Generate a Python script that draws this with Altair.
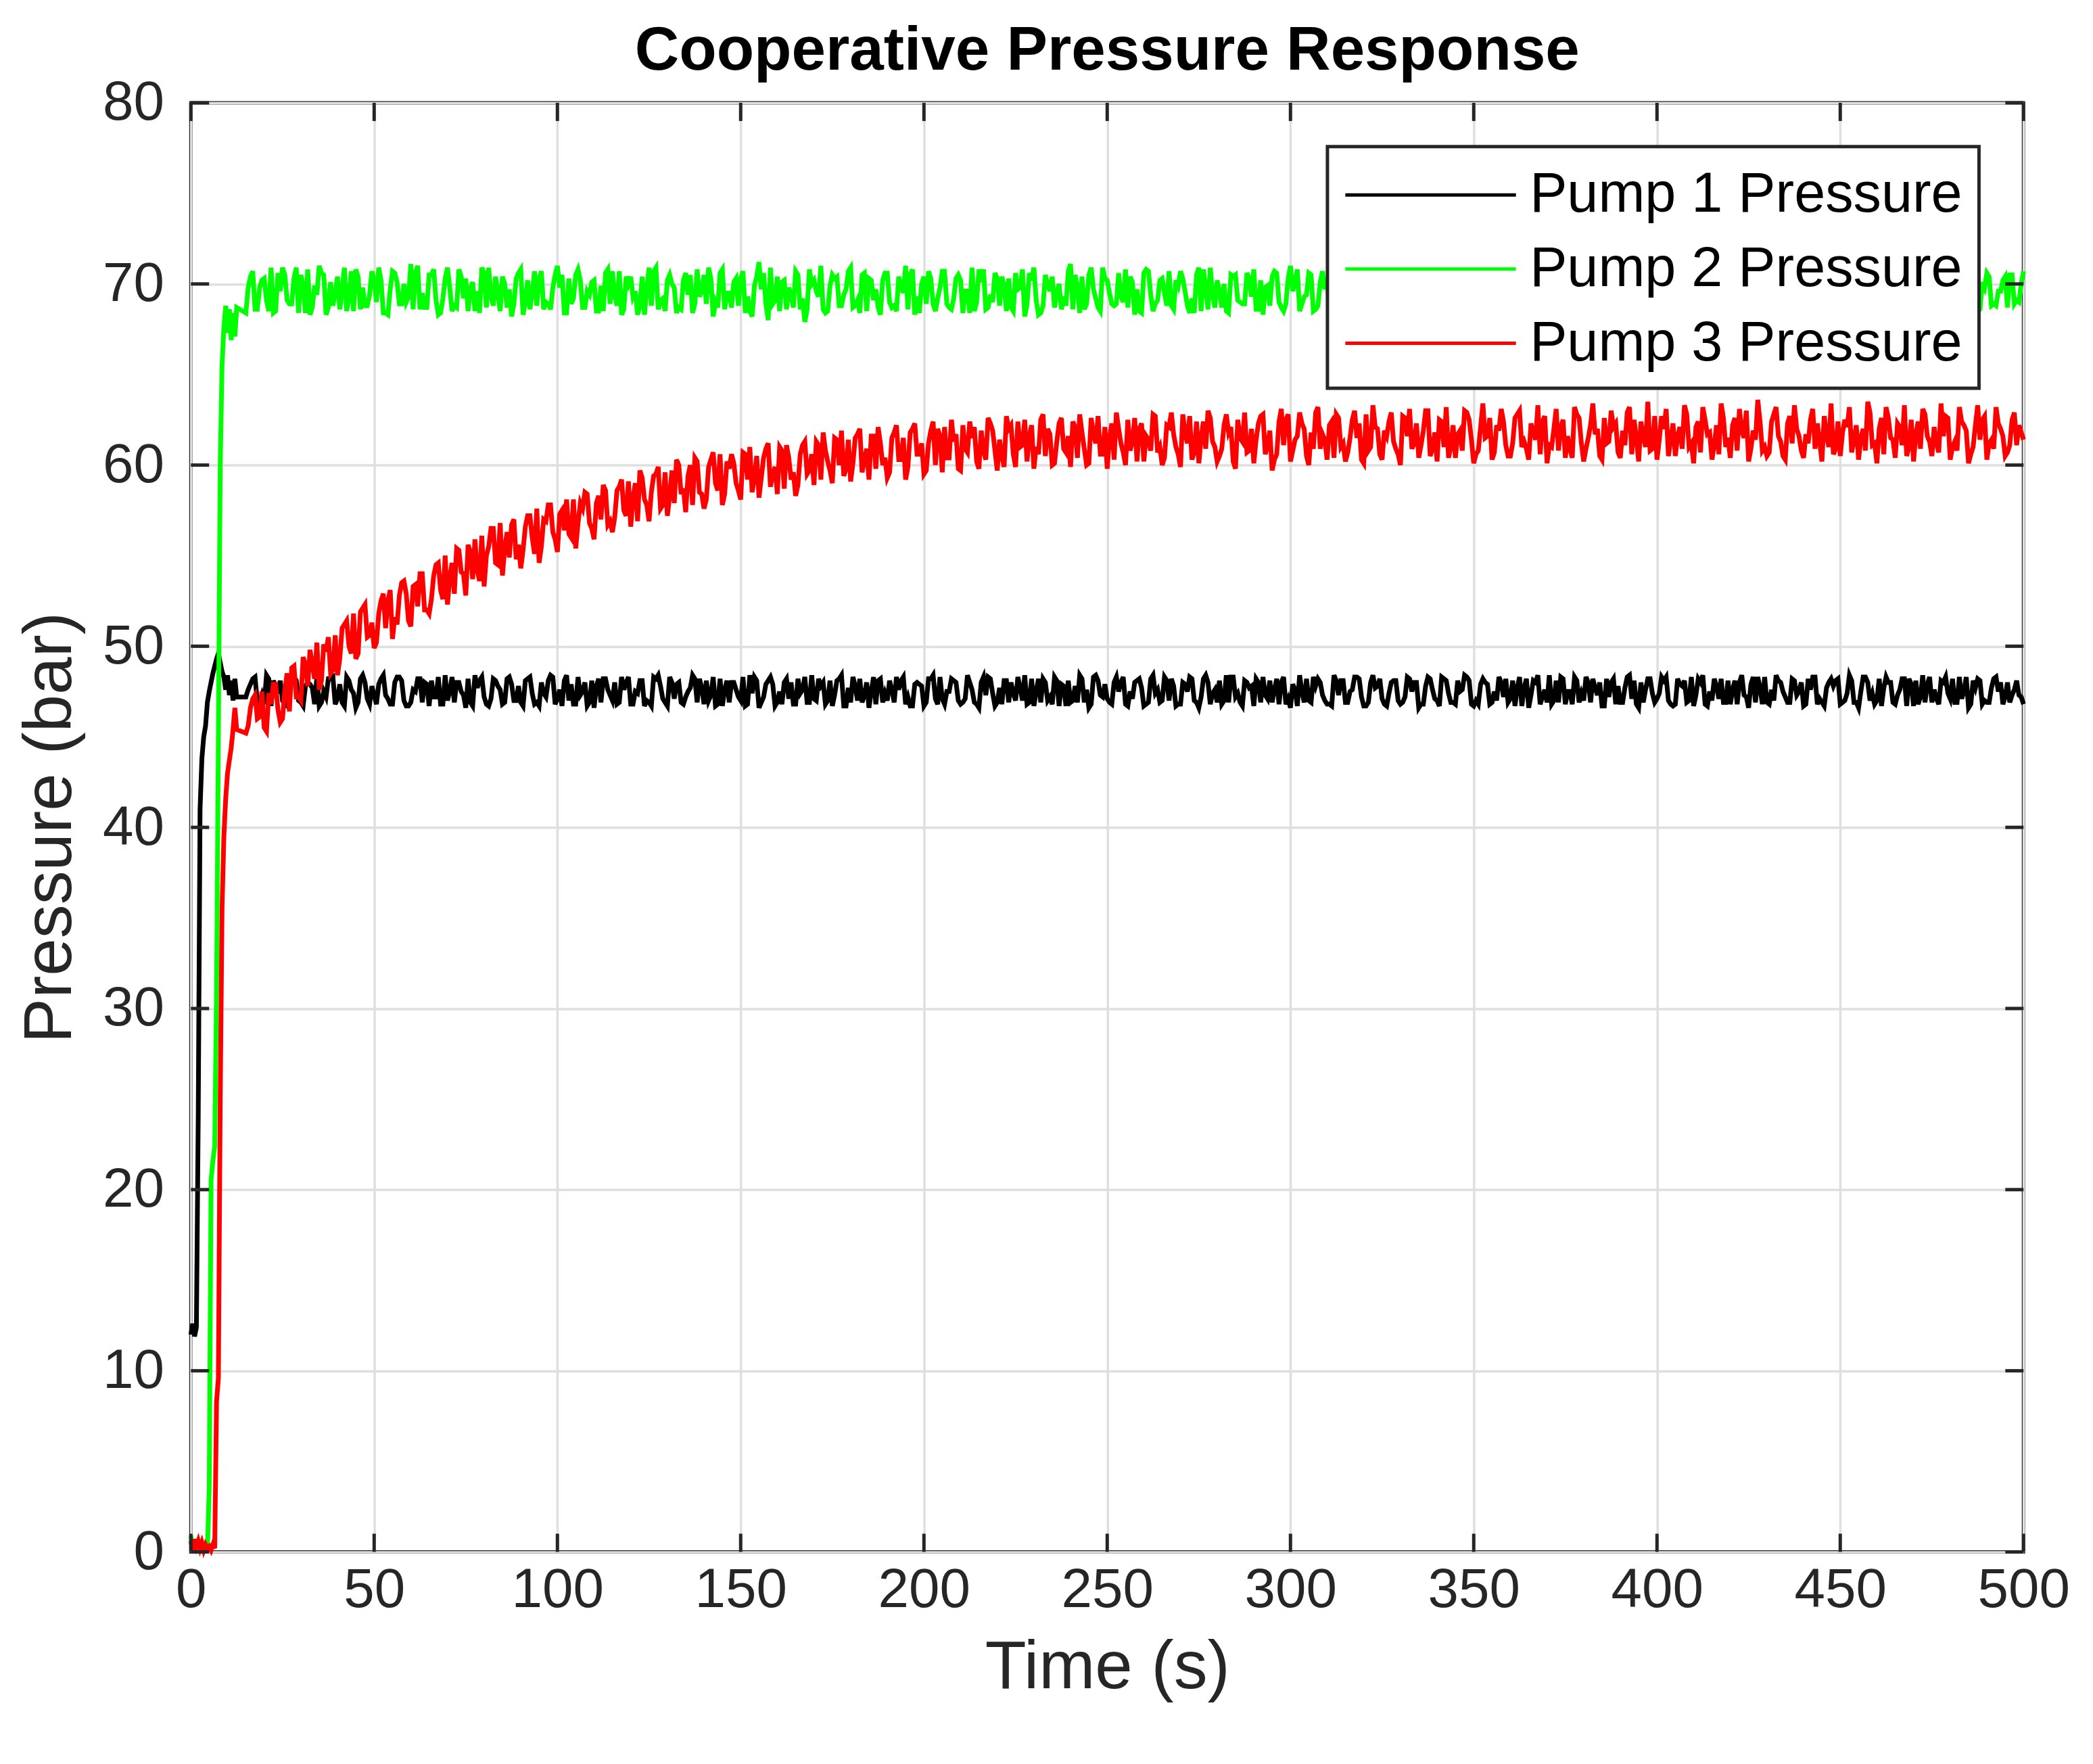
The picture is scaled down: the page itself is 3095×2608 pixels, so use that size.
import altair as alt
import pandas as pd

# ---------------- data ----------------
series_names = ["Pump 1 Pressure", "Pump 2 Pressure", "Pump 3 Pressure"]
series_colors = ["#000000", "#00ff00", "#ff0000"]

time_transient = [0, 0.5, 1, 1.5, 2, 2.5, 3, 3.5, 4, 4.5, 5, 5.5, 6, 6.5,
                  7, 7.5, 8, 8.5, 9, 9.5, 10, 10.5, 11, 11.5, 12, 12.5]
# sampling grid after the start-up: 15 s .. 500 s every 0.625 s
time_steady = [15 + 0.625 * i for i in range(777)]

pump1_transient = [12.0, 12.6, 11.9, 12.4, 24.0, 41.0, 43.8, 45.0, 45.6, 46.9,
                   47.5, 48.0, 48.5, 48.9, 49.3, 49.6, 49.1, 48.6, 48.3, 47.6,
                   48.4, 47.3, 48.1, 47.0, 48.2, 47.2]
pump2_transient = [0.9, 0.3, 0.7, 0.2, 0.6, 0.1, 0.5, 0.2, 0.4, 0.1,
                   3.5, 20.5, 21.6, 22.4, 31.0, 45.0, 60.0, 65.5, 67.6, 68.8,
                   67.3, 68.6, 66.9, 68.4, 67.1, 68.7]
pump3_transient = [0.6, 0.1, 0.7, 0.3, 0.6, 0.2, 0.5, 0.1, 0.4, 0.2,
                   0.3, 0.1, 0.4, 0.2, 8.3, 9.6, 25.0, 35.5, 39.5, 41.6,
                   43.0, 43.7, 44.4, 45.4, 46.6, 45.4]

# samples at 15, 17.5, 20, ... 500 s
pump1_a = [
    47.2, 48.3, 46.8, 48.1, 47.0, 48.4, 46.9, 47.9, 46.7, 48.2,
    47.1, 48.3, 46.6, 48.0, 47.3, 48.4, 46.8, 48.1, 46.9, 48.2,
    46.7, 48.3, 47.0, 48.0, 46.6, 48.4, 47.2, 48.2, 46.8, 47.9,
    46.9, 48.3, 46.7, 48.1, 47.1, 48.4, 46.8, 48.0, 46.6, 48.2,
    47.0, 48.3, 46.8, 48.1, 46.9, 48.4, 46.7, 47.9, 47.2, 48.2,
    46.8, 48.3, 46.7, 48.0, 47.0, 48.4, 46.6, 48.1, 46.9, 48.2,
    46.8, 48.3, 47.1, 48.0, 46.7, 48.4, 46.9, 48.2, 46.6, 48.1,
    47.0, 48.3, 46.8, 47.9, 46.7, 48.4, 47.1, 48.2, 46.8, 48.0,
    46.6, 48.3, 46.9, 48.1, 47.0, 48.4, 46.7, 48.2, 46.8, 47.9,
    46.9, 48.4, 46.6, 48.1, 47.1, 48.3, 46.8, 48.0, 46.7, 48.4,
    47.0, 48.2, 46.8, 48.3, 46.6, 48.0, 46.9, 48.4, 47.2, 48.1,
    46.7, 48.3, 46.9, 48.0, 46.6, 48.4, 47.0, 48.2, 46.8, 48.1,
    46.9, 48.3, 46.7, 48.4, 47.1, 48.0, 46.8, 48.2, 46.6, 48.3,
    47.0, 48.1, 46.8, 48.4, 46.7, 48.2, 46.9, 48.0, 47.1, 48.3,
    46.6, 48.4, 46.9, 48.1, 46.8, 48.3, 47.0, 48.2, 46.7, 48.0,
    46.9, 48.4, 46.6, 48.2, 47.1, 48.3, 46.8, 48.1, 46.7, 48.4,
    47.0, 48.2, 46.8, 48.0, 46.6, 48.3, 46.9, 48.4, 47.2, 48.1,
    46.7, 48.3, 46.9, 48.2, 46.8, 48.4, 46.6, 48.0, 47.0, 48.3,
    46.8, 48.2, 46.7, 48.4, 46.9, 48.1, 47.1, 48.3, 46.6, 48.2,
    46.9, 48.3, 47.2, 47.6, 46.8]
# samples at 16.25, 18.75, ... 498.75 s
pump1_b = [
    47.9, 46.9, 48.2, 47.4, 46.7, 48.1, 47.8, 46.8, 47.5, 48.3,
    46.9, 47.6, 48.2, 46.8, 47.9, 47.1, 48.3, 46.7, 47.5, 48.0,
    47.2, 46.8, 48.3, 47.5, 46.9, 48.1, 46.7, 47.8, 48.2, 47.0,
    48.1, 46.8, 47.4, 48.3, 46.7, 47.9, 47.3, 46.9, 48.2, 47.6,
    46.8, 48.0, 47.5, 46.7, 48.3, 47.1, 48.0, 46.9, 47.7, 48.2,
    47.0, 46.8, 48.1, 47.6, 46.7, 48.3, 47.2, 47.9, 46.8, 48.0,
    47.4, 46.9, 48.2, 47.0, 48.1, 46.7, 47.8, 47.3, 48.3, 46.9,
    47.6, 48.1, 46.7, 47.9, 48.2, 46.8, 47.5, 48.0, 47.1, 46.9,
    48.3, 47.4, 46.8, 48.0, 47.7, 46.9, 48.2, 47.0, 48.1, 46.7,
    47.8, 46.9, 48.3, 47.2, 46.8, 48.0, 47.5, 48.2, 46.9, 47.6,
    48.1, 46.7, 47.9, 47.0, 48.2, 47.4, 46.8, 48.3, 46.9, 47.7,
    48.0, 47.1, 48.2, 46.8, 47.6, 46.9, 48.3, 47.3, 46.7, 48.1,
    47.5, 48.2, 46.9, 47.8, 46.7, 48.1, 47.2, 48.0, 46.8, 47.6,
    48.3, 46.9, 47.5, 48.1, 46.8, 47.9, 47.0, 48.2, 46.7, 47.7,
    48.1, 47.2, 46.8, 48.3, 47.5, 46.9, 48.0, 47.3, 48.2, 46.8,
    47.7, 48.1, 46.9, 47.4, 48.3, 46.8, 47.9, 47.0, 48.2, 46.7,
    47.8, 46.9, 48.1, 47.3, 48.3, 46.8, 47.6, 48.0, 46.9, 47.5,
    48.2, 46.8, 47.7, 48.1, 47.0, 46.9, 48.3, 47.4, 46.7, 48.0,
    47.6, 48.2, 46.8, 47.9, 47.1, 48.3, 46.9, 47.5, 48.1, 46.8,
    47.7, 48.0, 46.9, 47.3]
# samples at 15.625, 16.875, ... 499.375 s
pump1_c = [
    47.6, 48.2, 46.9, 47.3, 48.4, 46.7, 47.8, 48.1, 46.8, 47.5,
    48.3, 47.0, 46.7, 48.0, 47.7, 48.3, 46.9, 47.2, 48.2, 46.8,
    47.9, 46.7, 48.1, 47.4, 46.9, 48.4, 47.1, 47.8, 46.8, 48.2,
    47.3, 46.8, 48.0, 48.3, 47.0, 46.7, 47.6, 48.2, 46.9, 47.9,
    48.1, 47.2, 46.8, 48.4, 47.5, 46.9, 48.0, 47.3, 48.2, 46.7,
    47.7, 48.3, 46.8, 47.1, 48.1, 47.6, 46.9, 48.3, 47.0, 47.8,
    46.7, 48.2, 47.4, 46.9, 48.0, 47.2, 48.4, 46.8, 47.6, 48.1,
    47.0, 46.8, 48.3, 47.5, 46.7, 48.1, 47.8, 46.9, 48.2, 47.3,
    48.0, 46.9, 47.6, 48.3, 46.8, 47.4, 48.1, 47.0, 46.7, 48.2,
    47.8, 46.9, 48.3, 47.1, 48.0, 46.8, 47.5, 48.4, 46.9, 47.7,
    48.1, 47.3, 46.7, 48.2, 47.6, 46.9, 48.0, 47.2, 48.3, 46.8,
    47.4, 48.1, 46.9, 47.9, 48.3, 46.7, 47.5, 48.0, 47.1, 46.8,
    48.2, 47.6, 46.9, 48.4, 47.0, 47.8, 46.8, 48.1, 47.3, 48.2,
    46.7, 47.7, 48.3, 47.0, 46.9, 48.0, 47.5, 46.8, 48.2, 47.4,
    48.1, 46.9, 47.6, 48.3, 47.2, 46.7, 48.0, 47.8, 46.9, 48.2,
    47.1, 48.3, 46.8, 47.5, 48.1, 47.0, 46.9, 48.4, 47.6, 46.8,
    48.0, 47.3, 48.2, 46.7, 47.7, 48.1, 46.9, 47.4, 48.3, 47.0,
    46.8, 48.2, 47.5, 46.9, 48.0, 47.2, 48.3, 46.7, 47.8, 48.1,
    47.0, 46.9, 48.2, 47.6, 46.8, 48.4, 47.3, 47.9, 46.9, 48.0,
    47.5, 48.3, 46.7, 47.1, 48.1, 47.7, 46.8, 48.2, 47.4, 46.9,
    48.3, 47.0, 47.8, 46.8, 48.0, 47.5, 48.2, 46.9, 47.2, 48.4,
    46.8, 47.6, 48.1, 47.0, 46.9, 48.3, 47.4, 46.7, 48.0, 47.8,
    48.2, 46.9, 47.3, 48.1, 47.6, 46.8, 48.3, 47.1, 47.9, 46.7,
    47.5, 48.2, 46.9, 47.8, 48.0, 47.0, 46.8, 48.4, 47.3, 48.1,
    46.9, 47.6, 48.3, 47.2, 46.7, 48.0, 47.7, 48.2, 46.8, 47.4,
    48.1, 47.0, 46.9, 48.3, 47.5, 48.0, 46.8, 47.8, 48.2, 47.1,
    46.7, 48.2, 47.4, 46.9, 48.1, 47.6, 48.3, 46.8, 47.0, 47.9,
    48.0, 46.8, 47.5, 48.3, 47.2, 46.9, 48.1, 47.7, 46.7, 48.2,
    47.3, 48.0, 46.8, 47.6, 48.4, 47.0, 46.9, 48.2, 47.5, 46.8,
    48.1, 47.4, 48.3, 46.9, 47.7, 48.0, 46.7, 47.2, 48.2, 47.8,
    46.9, 48.3, 47.1, 46.8, 48.0, 47.6, 48.2, 46.9, 47.4, 48.1,
    47.0, 46.7, 48.2, 47.8, 46.9, 48.3, 47.3, 48.0, 46.8, 47.5,
    48.2, 47.1, 46.9, 48.1, 47.6, 46.8, 48.4, 47.2, 47.9, 46.9,
    47.7, 48.3, 46.8, 47.0, 48.1, 47.5, 46.9, 48.2, 47.3, 48.0,
    46.8, 47.6, 48.3, 47.1, 46.7, 48.0, 47.8, 48.2, 46.9, 47.4,
    48.1, 46.9, 47.5, 48.3, 47.0, 46.8, 48.2, 47.7, 48.0, 46.9,
    47.3, 48.2, 46.7, 47.9, 48.1, 47.2, 46.9, 48.3, 47.6, 46.8,
    48.0, 47.4, 48.2, 46.9, 47.1, 48.3, 46.8, 47.7, 48.1, 47.0,
    46.9, 48.2, 47.5, 46.8, 48.0, 47.3, 48.1, 47.2]

pump2_a = [
    68.4, 68.6, 70.3, 68.4, 70.9, 68.9, 70.5, 68.3, 71.0, 68.7,
    70.4, 68.5, 70.8, 68.8, 70.2, 68.4, 70.7, 68.9, 71.1, 68.6,
    70.5, 68.3, 70.9, 68.7, 70.3, 68.5, 70.6, 68.8, 70.4, 68.2,
    70.8, 68.6, 70.3, 68.9, 71.0, 68.4, 70.5, 68.7, 70.2, 68.5,
    70.7, 68.3, 70.4, 68.8, 70.9, 68.6, 70.2, 68.4, 70.6, 68.9,
    70.5, 68.2, 70.8, 68.7, 70.3, 68.5, 71.2, 68.0, 70.4, 68.6,
    70.7, 67.9, 70.2, 68.6, 70.5, 68.8, 70.9, 68.4, 70.3, 68.7,
    70.6, 68.5, 71.0, 68.3, 70.4, 68.9, 70.7, 68.6, 70.2, 68.4,
    70.8, 68.7, 70.3, 68.5, 70.6, 68.2, 70.9, 68.8, 70.4, 68.6,
    71.1, 68.4, 70.5, 68.7, 70.2, 68.9, 70.8, 68.3, 70.6, 68.5,
    70.3, 68.8, 70.7, 68.4, 70.9, 68.6, 70.2, 68.5, 70.5, 68.9,
    70.8, 68.3, 70.4, 68.7, 71.0, 68.5, 70.6, 68.8, 70.3, 68.4,
    70.7, 68.6, 70.2, 68.9, 70.5, 68.3, 70.9, 68.7, 70.4, 68.5,
    70.6, 68.8, 70.3, 68.4, 70.8, 68.6, 70.5, 68.2, 71.0, 68.7,
    70.4, 68.5, 70.7, 68.9, 70.2, 68.4, 70.6, 68.7, 70.9, 68.3,
    70.5, 68.6, 70.8, 68.5, 70.3, 68.8, 71.1, 68.4, 70.6, 68.7,
    70.2, 68.9, 70.7, 68.3, 70.5, 68.6, 70.4, 68.8, 70.9, 68.5,
    70.6, 68.4, 70.3, 68.7, 71.0, 68.5, 70.8, 68.2, 70.4, 68.9,
    70.7, 68.6, 70.2, 68.8, 70.5, 68.4, 70.9, 68.7, 70.3, 68.5,
    70.6, 68.8, 70.4, 68.9, 70.7]
pump2_b = [
    70.4, 69.8, 68.5, 70.6, 69.1, 70.9, 68.4, 69.9, 70.5, 68.8,
    69.6, 70.7, 68.6, 69.4, 70.9, 68.3, 70.1, 69.0, 70.6, 68.7,
    70.8, 69.2, 68.5, 70.4, 69.7, 68.4, 70.9, 69.5, 68.7, 70.3,
    69.0, 70.7, 68.6, 69.8, 70.5, 68.9, 70.2, 69.4, 68.5, 70.8,
    68.8, 70.4, 69.6, 68.3, 70.7, 69.2, 70.0, 68.6, 70.5, 69.3,
    70.9, 68.7, 69.5, 70.3, 68.4, 69.9, 70.6, 68.9, 70.1, 69.4,
    68.6, 70.8, 69.3, 68.5, 70.4, 69.7, 68.8, 70.6, 69.1, 70.2,
    68.7, 69.9, 70.5, 68.4, 70.7, 69.2, 68.9, 70.3, 69.6, 68.5,
    70.8, 69.0, 70.4, 68.7, 69.8, 70.6, 68.3, 70.0, 69.5, 68.8,
    70.5, 68.6, 69.7, 70.9, 68.9, 69.3, 70.4, 68.5, 70.7, 69.1,
    68.8, 70.2, 69.6, 68.4, 70.8, 69.4, 68.7, 70.5, 69.0, 70.3,
    68.6, 69.9, 70.6, 68.9, 70.1, 69.3, 68.5, 70.7, 69.8, 68.8,
    70.4, 69.2, 68.6, 70.9, 69.5, 68.8, 70.3, 69.1, 70.6, 68.5,
    69.7, 70.8, 68.9, 70.2, 69.4, 68.6, 70.5, 69.0, 68.7, 70.4,
    69.3, 70.7, 68.5, 69.9, 70.3, 68.8, 70.6, 69.2, 68.4, 70.1,
    69.8, 68.7, 70.5, 69.5, 68.9, 70.8, 69.1, 68.6, 70.3, 69.6,
    68.8, 70.4, 69.0, 70.7, 68.5, 69.7, 70.2, 68.9, 70.6, 69.3,
    70.0, 68.6, 70.5, 69.4, 68.8, 70.9, 69.2, 68.5, 70.3, 69.8,
    68.7, 70.6, 69.1, 68.9, 70.4, 69.5, 68.6, 70.8, 69.3, 70.1,
    68.8, 69.6, 70.5, 69.0]
pump2_c = [
    69.8, 70.7, 68.6, 70.2, 69.1, 70.9, 68.5, 69.6, 70.5, 68.9,
    70.3, 68.4, 69.9, 70.8, 68.7, 69.4, 70.6, 68.3, 70.1, 69.5,
    68.6, 70.9, 69.2, 68.5, 70.4, 69.8, 68.8, 70.7, 69.0, 70.2,
    68.4, 69.7, 70.6, 68.9, 70.0, 69.3, 68.6, 71.0, 69.5, 68.7,
    70.5, 69.1, 68.4, 70.3, 69.8, 68.8, 70.8, 69.2, 68.5, 70.1,
    69.6, 70.9, 68.7, 69.3, 70.4, 68.5, 70.0, 69.7, 68.9, 70.6,
    68.3, 70.2, 69.5, 68.8, 70.7, 69.0, 68.6, 70.5, 69.8, 68.4,
    70.3, 69.2, 70.8, 68.7, 69.6, 70.1, 68.5, 69.9, 70.6, 68.9,
    69.4, 70.7, 68.6, 70.0, 69.3, 68.3, 70.4, 69.7, 68.8, 70.9,
    69.1, 68.5, 70.5, 69.8, 68.7, 70.2, 69.4, 68.4, 70.8, 69.6,
    68.9, 70.3, 69.0, 70.6, 68.6, 69.5, 70.1, 68.8, 70.7, 69.3,
    68.2, 70.4, 69.7, 68.9, 70.9, 69.1, 68.5, 70.2, 69.8, 68.7,
    70.5, 69.2, 68.6, 70.0, 69.6, 71.0, 68.4, 69.9, 70.3, 68.8,
    69.4, 70.7, 68.7, 69.1, 70.5, 68.5, 70.2, 69.7, 68.3, 70.6,
    69.0, 68.8, 70.4, 69.5, 68.6, 70.8, 69.3, 70.0, 68.9, 70.3,
    68.5, 69.8, 70.7, 68.7, 69.2, 70.5, 68.4, 69.6, 70.9, 69.0,
    70.1, 68.6, 69.4, 70.6, 68.8, 69.9, 70.3, 68.5, 69.7, 70.8,
    68.9, 70.2, 69.1, 68.4, 70.5, 69.6, 68.7, 70.0, 69.3, 70.7,
    68.6, 69.8, 70.4, 68.9, 70.9, 69.2, 68.5, 70.3, 69.5, 68.8,
    70.6, 69.0, 68.7, 70.1, 69.7, 68.4, 70.8, 69.4, 68.9, 70.2,
    69.5, 70.7, 68.6, 69.9, 70.3, 68.8, 69.2, 70.5, 68.5, 69.8,
    70.9, 68.7, 69.6, 70.0, 68.4, 70.4, 69.1, 68.9, 70.6, 69.3,
    68.6, 70.2, 69.8, 68.8, 70.7, 69.0, 68.5, 70.3, 69.6, 70.8,
    68.9, 69.4, 70.5, 68.6, 70.1, 69.7, 68.3, 70.6, 69.2, 68.8,
    70.4, 69.5, 68.7, 70.9, 69.0, 68.6, 70.2, 69.8, 68.9, 70.5,
    69.3, 68.5, 70.7, 69.6, 68.8, 70.0, 69.1, 70.4, 68.4, 69.9,
    70.6, 68.9, 69.4, 70.8, 68.6, 69.7, 70.3, 68.7, 70.1, 69.2,
    68.5, 70.5, 69.8, 68.9, 70.7, 69.0, 68.6, 70.2, 69.5, 68.8,
    70.9, 69.3, 68.4, 70.0, 69.7, 68.7, 70.6, 69.1, 68.9, 70.4,
    69.6, 68.5, 70.3, 69.9, 68.8, 70.8, 69.2, 68.6, 70.5, 69.4,
    68.7, 70.1, 69.5, 68.9, 70.6, 69.0, 68.4, 70.7, 69.8, 68.8,
    70.2, 69.3, 68.6, 70.9, 69.7, 68.5, 70.0, 69.4, 70.5, 68.9,
    69.1, 70.4, 68.7, 69.8, 70.2, 68.6, 70.8, 69.3, 68.8, 70.1,
    69.6, 68.4, 70.6, 69.0, 68.9, 70.3, 69.5, 68.7, 70.7, 69.2,
    68.5, 70.0, 69.7, 68.8, 70.9, 69.1, 68.6, 70.4, 69.8, 68.9,
    70.5, 69.4, 68.7, 70.2, 69.0, 70.6, 68.5, 69.6, 70.3, 68.8,
    69.9, 70.8, 68.6, 69.3, 70.1, 68.9, 70.5, 69.7, 68.4, 70.0,
    69.2, 68.7, 70.6, 69.5, 68.8, 70.3, 69.0, 70.7, 68.6, 69.8,
    70.4, 68.9, 69.6, 70.2, 68.7, 70.5, 69.1, 70.0]

pump3_a = [
    45.2, 47.3, 45.5, 47.9, 46.0, 48.8, 47.0, 49.8, 47.6, 50.5,
    48.4, 51.4, 49.3, 52.3, 49.9, 52.9, 50.4, 53.5, 51.1, 54.0,
    51.8, 54.6, 52.3, 55.4, 52.8, 55.9, 53.3, 56.5, 53.9, 56.7,
    54.3, 57.2, 54.6, 57.8, 55.2, 58.1, 55.4, 58.5, 55.9, 58.9,
    56.3, 59.2, 56.6, 59.7, 56.9, 59.9, 57.2, 60.3, 57.4, 60.4,
    57.6, 60.7, 57.8, 60.6, 58.1, 61.0, 58.2, 61.2, 58.4, 61.1,
    58.3, 61.3, 58.9, 61.8, 59.0, 61.9, 59.1, 62.0, 59.2, 62.1,
    59.3, 62.2, 59.2, 62.3, 59.5, 62.4, 59.6, 62.5, 59.7, 62.4,
    59.8, 62.6, 59.7, 62.7, 59.9, 62.5, 59.8, 62.8, 60.0, 62.6,
    59.9, 62.8, 60.1, 62.7, 59.8, 62.9, 60.0, 62.6, 60.2, 62.8,
    60.0, 62.9, 59.9, 62.7, 60.1, 63.0, 60.2, 62.8, 59.8, 62.9,
    60.1, 62.8, 59.7, 63.1, 60.2, 62.9, 60.0, 63.2, 60.3, 62.8,
    60.2, 63.0, 60.1, 63.3, 60.3, 62.9, 60.0, 63.1, 60.4, 63.0,
    60.2, 63.2, 60.4, 63.0, 60.1, 63.4, 60.3, 63.1, 60.5, 63.0,
    60.3, 63.3, 60.1, 63.1, 60.4, 63.2, 60.2, 63.4, 60.3, 63.0,
    60.4, 63.2, 60.2, 63.5, 60.3, 63.1, 60.5, 63.3, 60.1, 63.2,
    60.3, 63.4, 60.4, 63.1, 60.2, 63.6, 60.5, 63.2, 60.3, 63.3,
    60.4, 63.1, 60.2, 63.4, 60.5, 63.2, 60.3, 63.5, 60.1, 63.2,
    60.4, 63.3, 60.2, 63.1, 60.5, 63.4, 60.3, 63.2, 60.1, 63.3,
    60.3, 63.2, 60.5, 62.9, 61.4]
pump3_b = [
    46.6, 46.1, 47.4, 46.5, 48.5, 47.2, 49.0, 48.2, 50.1, 48.7,
    51.0, 49.6, 51.9, 50.6, 51.8, 52.5, 51.2, 52.9, 53.4, 52.0,
    53.9, 52.6, 54.6, 54.1, 55.2, 53.6, 55.5, 54.5, 56.3, 54.8,
    56.6, 55.1, 57.0, 56.3, 57.5, 56.0, 57.9, 56.8, 58.3, 56.7,
    58.6, 57.2, 59.0, 58.1, 59.4, 57.8, 59.7, 58.4, 60.0, 58.5,
    59.9, 58.6, 60.2, 59.0, 60.6, 59.3, 60.4, 59.5, 60.8, 59.2,
    60.6, 59.7, 61.1, 60.2, 61.4, 59.8, 61.5, 60.3, 61.6, 60.0,
    61.5, 60.3, 61.8, 60.6, 61.2, 62.0, 60.4, 61.7, 60.9, 62.1,
    60.8, 61.9, 60.5, 62.2, 61.0, 61.6, 60.6, 62.0, 61.3, 60.7,
    62.1, 60.9, 61.7, 60.6, 62.3, 61.2, 60.8, 62.0, 61.4, 60.7,
    62.2, 61.0, 61.8, 60.7, 62.4, 61.3, 60.9, 62.1, 61.5, 60.8,
    62.3, 61.1, 60.6, 62.5, 61.4, 62.0, 60.9, 61.7, 62.4, 61.0,
    61.5, 62.3, 60.8, 62.0, 61.6, 60.9, 62.6, 61.2, 61.9, 60.9,
    62.4, 61.0, 61.9, 62.5, 60.8, 61.6, 62.2, 61.1, 62.6, 61.3,
    61.8, 62.4, 61.0, 62.1, 60.9, 62.6, 61.5, 62.0, 61.2, 62.3,
    61.1, 62.5, 61.6, 60.9, 62.7, 61.4, 62.1, 61.0, 62.4, 61.7,
    62.2, 61.0, 62.6, 61.5, 61.9, 60.8, 62.4, 61.3, 62.7, 61.6,
    61.2, 62.3, 61.7, 60.9, 62.5, 61.4, 62.0, 61.1, 62.6, 61.5,
    62.1, 61.0, 62.4, 61.6, 61.2, 62.7, 61.3, 62.2, 61.0, 62.5,
    61.4, 62.0, 61.1, 62.2]
pump3_c = [
    45.6, 47.1, 46.0, 47.5, 45.3, 46.8, 47.9, 45.8, 47.6, 46.4,
    48.9, 47.2, 49.4, 47.8, 49.0, 50.2, 48.1, 49.7, 48.5, 50.6,
    49.3, 51.2, 50.0, 51.8, 49.6, 52.1, 50.5, 51.3, 50.2, 52.5,
    51.0, 53.1, 51.6, 52.8, 53.6, 51.4, 53.3, 52.2, 54.0, 52.0,
    52.6, 54.5, 53.1, 55.0, 53.8, 52.9, 55.3, 54.0, 55.6, 53.7,
    54.2, 56.1, 55.0, 56.5, 54.6, 56.8, 55.4, 54.9, 57.0, 55.6,
    55.3, 57.2, 56.0, 57.6, 55.5, 56.9, 57.8, 55.9, 57.3, 56.4,
    56.2, 58.1, 56.8, 57.6, 58.4, 56.5, 57.9, 57.0, 58.6, 56.9,
    57.1, 58.8, 57.5, 59.1, 58.2, 56.9, 59.3, 57.8, 58.5, 59.5,
    57.6, 59.6, 58.3, 57.9, 60.0, 58.7, 59.4, 57.8, 60.2, 58.4,
    58.1, 60.3, 59.0, 60.6, 58.4, 59.8, 60.1, 58.6, 60.7, 59.2,
    58.5, 60.5, 59.3, 60.9, 58.8, 59.9, 61.0, 58.7, 60.4, 59.6,
    58.9, 61.1, 59.5, 60.6, 61.3, 59.2, 60.8, 59.7, 61.5, 60.0,
    59.4, 61.4, 60.1, 61.7, 59.6, 60.9, 61.6, 59.8, 61.2, 60.4,
    59.6, 61.8, 60.3, 61.5, 59.9, 62.0, 60.6, 61.2, 59.7, 61.9,
    60.0, 61.6, 62.1, 60.4, 61.3, 59.8, 62.2, 60.7, 61.5, 60.2,
    61.9, 60.3, 62.3, 60.8, 61.4, 59.9, 62.0, 60.6, 62.4, 61.1,
    60.2, 62.2, 61.0, 62.5, 60.5, 61.7, 60.1, 62.3, 60.9, 61.6,
    62.4, 60.4, 61.8, 60.0, 62.6, 61.2, 60.6, 62.1, 61.5, 60.3,
    62.0, 60.7, 62.5, 61.3, 60.2, 62.3, 61.6, 60.8, 62.7, 61.0,
    60.4, 62.1, 61.7, 60.6, 62.8, 61.2, 60.3, 62.4, 61.5, 60.9,
    62.6, 61.0, 60.5, 62.2, 61.8, 60.2, 62.5, 61.3, 60.7, 62.0,
    61.4, 62.7, 60.6, 61.9, 60.3, 62.4, 61.1, 62.8, 60.8, 61.6,
    62.3, 60.5, 61.8, 62.9, 60.9, 61.4, 62.2, 60.4, 62.6, 61.2,
    60.7, 62.5, 61.5, 60.3, 62.8, 61.0, 62.1, 60.6, 61.9, 62.4,
    61.3, 60.6, 62.7, 61.6, 60.9, 62.3, 61.1, 63.0, 60.5, 61.8,
    62.5, 61.0, 60.4, 62.2, 61.7, 60.8, 62.9, 61.4, 60.6, 62.1,
    61.5, 62.6, 60.7, 61.9, 62.4, 60.5, 61.2, 62.8, 61.0, 60.9,
    62.3, 61.4, 60.6, 62.7, 61.1, 62.0, 60.8, 62.5, 61.6, 60.4,
    62.8, 61.2, 60.9, 62.2, 61.7, 60.5, 62.6, 61.3, 62.1, 60.7,
    61.9, 62.9, 60.6, 61.5, 62.4, 61.0, 60.8, 62.7, 61.4, 62.0,
    60.5, 62.3, 61.6, 60.9, 62.8, 61.2, 62.1, 60.7, 62.5, 61.8,
    61.1, 60.6, 62.6, 61.5, 62.2, 60.8, 61.9, 63.0, 60.9, 61.4,
    62.4, 61.0, 60.7, 62.8, 61.6, 60.5, 62.3, 61.2, 62.0, 60.8,
    61.7, 62.5, 60.9, 61.3, 62.7, 61.0, 60.6, 62.4, 61.8, 62.1,
    60.7, 62.2, 61.5, 60.8, 62.9, 61.2, 62.0, 60.6, 62.6, 61.4,
    62.3, 61.1, 60.5, 62.5, 61.7, 60.9, 62.8, 61.3, 62.1, 60.7,
    61.6, 62.6, 61.0, 60.8, 62.4, 61.9, 60.6, 62.2, 61.4, 62.7,
    61.2, 60.9, 62.3, 61.6, 60.7, 62.5, 61.1, 61.8]

x_ticks = [0, 50, 100, 150, 200, 250, 300, 350, 400, 450, 500]
y_ticks = [0, 10, 20, 30, 40, 50, 60, 70, 80]


# ---------------- build table ----------------
def merge(a, b):
    out = []
    for i, v in enumerate(a):
        out.append(v)
        if i < len(b):
            out.append(b[i])
    return out


times = time_transient + time_steady
rows = []
for name, tr, a, b, c in [
    (series_names[0], pump1_transient, pump1_a, pump1_b, pump1_c),
    (series_names[1], pump2_transient, pump2_a, pump2_b, pump2_c),
    (series_names[2], pump3_transient, pump3_a, pump3_b, pump3_c),
]:
    for t, v in zip(times, tr + merge(merge(a, b), c)):
        rows.append({"time": t, "pressure": v, "series": name})
df = pd.DataFrame(rows)
xt = pd.DataFrame({"v": x_ticks})
yt = pd.DataFrame({"v": y_ticks})

W, H = 2717, 2148
FONT = "Liberation Sans"
AX = "#262626"
TICK = 27

x_scale = alt.Scale(domain=[0, 500], nice=False, zero=False)
y_scale = alt.Scale(domain=[0, 80], nice=False)

x_axis = alt.Axis(values=x_ticks, title="Time (s)", labelPadding=16,
                  titlePadding=26, labelFlush=False, labelOverlap=False)
y_axis = alt.Axis(values=y_ticks, title="Pressure (bar)", labelPadding=40,
                  titlePadding=26, labelFlush=False, labelOverlap=False)

color = alt.Color(
    "series:N",
    scale=alt.Scale(domain=series_names, range=series_colors),
    title=None,
    legend=alt.Legend(
        orient="none", legendX=1685, legendY=65,
        symbolType="M-1,0H4.622", symbolSize=8100, symbolStrokeWidth=5,
        labelFont=FONT, labelFontSize=83, labelColor="#000000",
        labelOffset=181, labelLimit=2000, padding=24, rowPadding=20,
        fillColor="#ffffff", strokeColor=AX,
    ),
)

layers = []
for name in series_names:
    layers.append(
        alt.Chart(df)
        .transform_filter(alt.datum.series == name)
        .mark_line(strokeWidth=7, strokeJoin="miter")
        .encode(
            x=alt.X("time:Q", scale=x_scale, axis=x_axis),
            y=alt.Y("pressure:Q", scale=y_scale, axis=y_axis),
            color=color,
        )
    )

tick_style = dict(color=AX, strokeWidth=5)
xb = alt.Chart(xt).mark_rule(**tick_style).encode(
    x=alt.X("v:Q", scale=x_scale), y=alt.value(H), y2=alt.value(H - TICK))
xtop = alt.Chart(xt).mark_rule(**tick_style).encode(
    x=alt.X("v:Q", scale=x_scale), y=alt.value(0), y2=alt.value(TICK))
yl = alt.Chart(yt).mark_rule(**tick_style).encode(
    y=alt.Y("v:Q", scale=y_scale), x=alt.value(0), x2=alt.value(TICK))
yr = alt.Chart(yt).mark_rule(**tick_style).encode(
    y=alt.Y("v:Q", scale=y_scale), x=alt.value(W), x2=alt.value(W - TICK))

chart = (
    alt.layer(*layers, xb, xtop, yl, yr)
    .properties(
        width=W, height=H,
        padding={"left": 275, "top": 141, "right": 95, "bottom": 303},
        autosize=alt.AutoSizeParams(type="none"),
        background="#ffffff",
        title=alt.TitleParams(
            "Cooperative Pressure Response", fontSize=91, fontWeight="bold",
            font=FONT, color="#000000", offset=23, dy=34, anchor="middle",
            frame="group",
        ),
    )
    .configure_view(stroke=AX, strokeWidth=5)
    .configure_axis(
        grid=True, gridColor="#dfdfdf", gridWidth=3.5, domain=False,
        ticks=False, tickSize=0,
        labelFont=FONT, labelFontSize=82, labelColor=AX,
        titleFont=FONT, titleFontSize=100, titleColor=AX,
        titleFontWeight="normal",
    )
    .configure_legend(strokeWidth=5)
)

chart.save("out.html", embed_options={"renderer": "svg", "actions": False})
